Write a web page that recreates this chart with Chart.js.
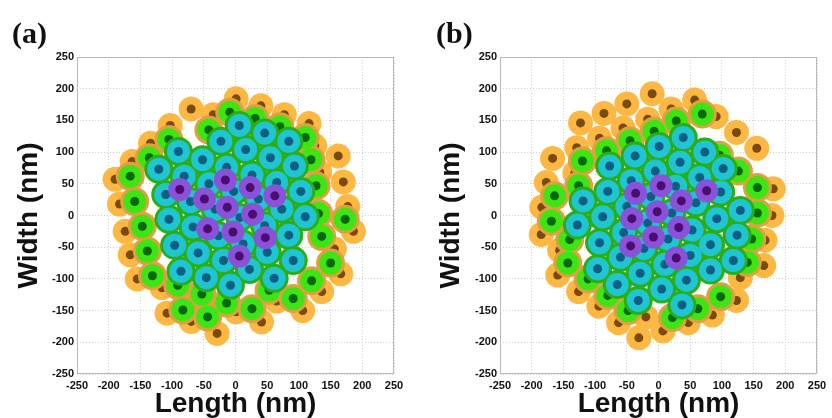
<!DOCTYPE html>
<html>
<head>
<meta charset="utf-8">
<script src="https://cdn.jsdelivr.net/npm/chart.js@4.4.1/dist/chart.umd.min.js"></script>
<style>
  body { margin: 0; background: #fff; }
  #wrap { position: relative; width: 832px; height: 418px; overflow: hidden; }
  canvas { position: absolute; top: 0; }
  .tag { position: absolute; font: bold 30px 'Liberation Serif', 'Times New Roman', serif; color: #111; line-height: 30px; }
</style>
</head>
<body>
<div id="wrap">
  <canvas id="chartA" width="416" height="418" style="left:0"></canvas>
  <canvas id="chartB" width="416" height="418" style="left:420px"></canvas>
  <div class="tag" style="left:12px; top:18px">(a)</div>
  <div class="tag" style="left:436px; top:18px">(b)</div>
</div>
<script>
// particle centres [length, width] in nm
const aOrange = [[1,184],[40,173],[77,159],[116,145],[-70,168],[-35,159],[-103,142],[-134,114],[162,94],[125,110],
  [-163,85],[-190,57],[170,53],[-183,18],[177,14],[-174,-25],[186,-25],[-166,-62],[156,-53],[166,-92],[-155,-100],
  [-116,-114],[136,-120],[-108,-154],[-70,-167],[-29,-186],[1,-152],[41,-168],[65,-135],[106,-150],[133,68]];
const aGreen = [[-9,163],[31,153],[70,140],[110,123],[-42,135],[-105,120],[-136,91],[119,88],[-166,62],[127,47],
  [-159,22],[173,-6],[131,3],[-147,-17],[136,-33],[-139,-56],[150,-75],[-131,-95],[120,-103],[-91,-110],[-53,-124],
  [-14,-138],[26,-147],[91,-131],[-83,-149],[-44,-160],[53,-118]];
const aCyan = [[6,142],[46,130],[84,117],
  [-23,117],[16,104],[55,91],[93,78],
  [-90,101],[-52,88],[-14,76],[26,64],[65,52],[103,38],
  [-121,73],[-81,62],[-42,50],[-3,38],[36,26],[73,10],[110,-2],
  [-110,33],[-71,22],[-32,10],[7,-3],[46,-16],[84,-31],
  [-105,-6],[-67,-18],[-27,-32],[12,-45],[50,-58],[91,-71],
  [-96,-47],[-59,-59],[-19,-71],[22,-85],[61,-99],
  [-86,-88],[-46,-98],[-8,-110]];
const aPurple = [[-88,41],[-16,56],[23,44],[62,31],[-49,26],[-13,13],[27,2],[-44,-21],[-4,-26],[47,-35],[6,-64]];

const bOrange = [[-10,192],[57,182],[-50,176],[-86,161],[20,168],[91,156],[-123,146],[-17,152],[-56,138],[123,131],
  [155,106],[-93,122],[-129,107],[-167,90],[-132,67],[-177,52],[181,42],[-184,13],[179,0],[-185,-30],[168,-39],
  [-156,-55],[166,-79],[-159,-94],[129,-98],[-126,-120],[123,-134],[-94,-143],[85,-157],[-63,-169],[7,-182],
  [47,-169],[-31,-193],[-20,-160]];
const bGreen = [[69,160],[28,149],[-7,133],[-45,118],[-82,102],[-120,86],[-126,47],[-164,31],[-169,-9],[-140,-38],
  [-143,-75],[-111,-100],[-80,-126],[-48,-150],[22,-161],[62,-147],[98,-128],[140,-74],[147,-37],[156,44],[156,4],
  [126,70],[96,95]];
const bCyan = [[-77,78],[-37,94],[1,109],[39,123],
  [-119,23],[-80,38],[-43,55],[-5,70],[34,84],[73,100],
  [-128,-15],[-88,-2],[-50,14],[-12,30],[27,46],[65,60],[102,74],
  [-93,-43],[-55,-27],[-17,-12],[21,4],[59,20],[98,37],
  [-96,-84],[-60,-66],[-23,-52],[15,-37],[53,-23],[92,-5],[129,8],
  [-65,-109],[-29,-91],[10,-77],[50,-63],[82,-46],[124,-31],
  [-32,-134],[5,-116],[44,-102],[82,-86],[118,-71],
  [37,-141]];
const bPurple = [[4,47],[-36,35],[76,39],[36,23],[-2,6],[-42,-5],[32,-19],[-8,-34],[-44,-48],[28,-67]];

const axisTicks = [-250, -200, -150, -100, -50, 0, 50, 100, 150, 200, 250];

function pts(list) {
  return list.map(p => ({ x: p[0], y: p[1] }));
}

function layer(list, color, radius, order) {
  return {
    data: pts(list),
    pointRadius: radius,
    pointBackgroundColor: color,
    pointBorderWidth: 0,
    showLine: false,
    order: order
  };
}

const boxPlugin = {
  id: 'box',
  afterDraw(chart) {
    const a = chart.chartArea, ctx = chart.ctx;
    ctx.save();
    ctx.strokeStyle = '#b8b8b8';
    ctx.lineWidth = 1;
    ctx.strokeRect(a.left + 0.5, a.top + 0.5, a.right - a.left - 1, a.bottom - a.top - 1);
    ctx.restore();
  }
};

function makePanel(id, orange, green, cyan, purple, leftW, padRight, titlePad) {
  const tickFont = { family: "'Liberation Sans Narrow', 'Liberation Sans', Arial, sans-serif", size: 11, weight: 'bold' };
  const titleFont = { family: "'Liberation Sans', Arial, sans-serif", size: 28, weight: 'bold', lineHeight: 1 };
  const grid = { color: '#cfcfcf', lineWidth: 1, drawTicks: false };
  new Chart(document.getElementById(id), {
    type: 'scatter',
    data: {
      datasets: [
        layer(orange, '#fdb844', 12.5, 10),
        layer(orange, '#7a4a0f', 4.5, 9),
        layer(green, '#e0a040', 14.5, 8),
        layer(green, '#3fe415', 11.5, 7),
        layer(green, '#05680b', 4.5, 6),
        layer(cyan, '#2bae14', 14.5, 5),
        layer(cyan, '#20c5d2', 11.5, 4),
        layer(cyan, '#0c5e84', 4.5, 3),
        layer(purple, '#8a52d9', 11.5, 2),
        layer(purple, '#4c0d70', 4.5, 1)
      ]
    },
    options: {
      responsive: false,
      animation: false,
      events: [],
      devicePixelRatio: 1,
      layout: { padding: { left: 0, right: padRight, top: 57, bottom: 0 } },
      plugins: { legend: { display: false }, tooltip: { enabled: false } },
      scales: {
        x: {
          type: 'linear', min: -250, max: 250,
          afterBuildTicks: s => { s.ticks = axisTicks.map(v => ({ value: v })); },
          afterFit: s => { s.height = 44; },
          grid: grid,
          border: { display: false, dash: [1, 2] },
          ticks: { font: tickFont, color: '#111', padding: 5, maxRotation: 0, autoSkip: false, callback: v => String(v) },
          title: { display: true, text: 'Length (nm)', font: titleFont, color: '#111', padding: { top: 0, bottom: 0 } }
        },
        y: {
          type: 'linear', min: -250, max: 250,
          afterBuildTicks: s => { s.ticks = axisTicks.map(v => ({ value: v })); },
          afterFit: s => { s.width = leftW; },
          grid: grid,
          border: { display: false, dash: [1, 2] },
          ticks: { font: tickFont, color: '#111', padding: 3, autoSkip: false, callback: v => String(v) },
          title: { display: true, text: 'Width (nm)', font: titleFont, color: '#111', padding: { top: titlePad, bottom: 0 } }
        }
      }
    },
    plugins: [boxPlugin]
  });
}

makePanel('chartA', aOrange, aGreen, aCyan, aPurple, 77, 22, 15);
makePanel('chartB', bOrange, bGreen, bCyan, bPurple, 80, 19, 17);
</script>
</body>
</html>
